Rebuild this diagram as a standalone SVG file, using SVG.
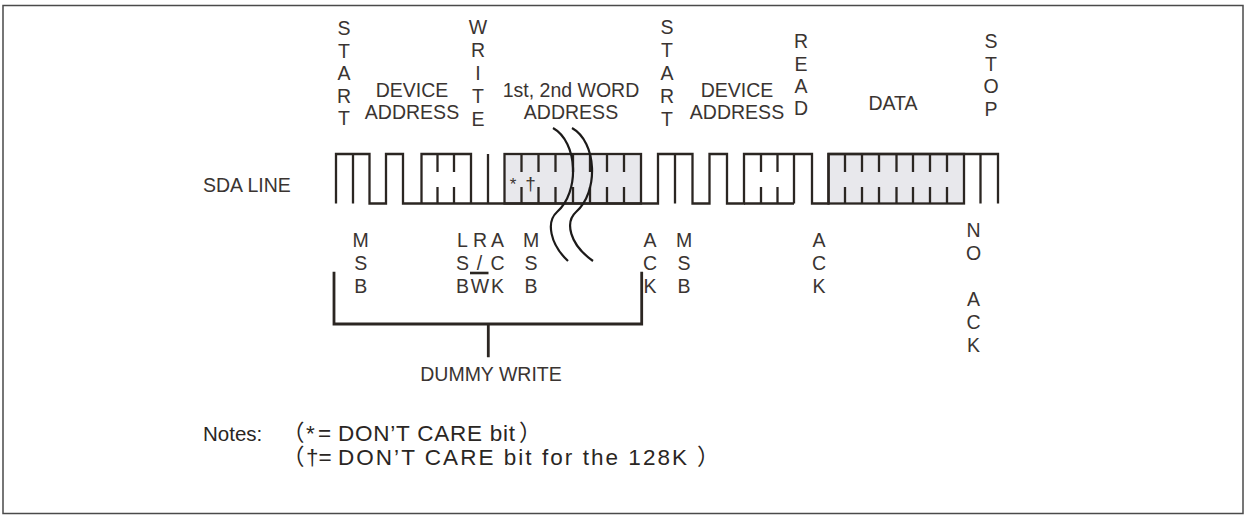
<svg xmlns="http://www.w3.org/2000/svg" width="1246" height="515" viewBox="0 0 1246 515">
<style>
.t{font-family:"Liberation Sans",Arial,"Noto Sans CJK SC",sans-serif;font-size:19.5px;fill:#3a3431;text-anchor:middle}
.n{font-family:"Liberation Sans",Arial,"Noto Sans CJK SC",sans-serif;font-size:22.5px;fill:#2a2623}
.w{fill:none;stroke:#2b2622;stroke-width:2.3;stroke-linejoin:miter;stroke-linecap:butt}
.g{fill:#e8e8ec;stroke:#2b2622;stroke-width:2.3}
.c{fill:none;stroke:#1c1a19;stroke-width:2.2}
.b{fill:none;stroke:#2b2622;stroke-width:2.8}
</style>
<rect x="3" y="5.5" width="1240" height="508" fill="#fff" stroke="#4a4a4a" stroke-width="1.5"/>

<g id="labels-top">
<text class="t"><tspan x="344" y="35">S</tspan><tspan x="344" y="57.5">T</tspan><tspan x="344" y="80">A</tspan><tspan x="344" y="102.5">R</tspan><tspan x="344" y="125">T</tspan></text>
<text class="t"><tspan x="412" y="96.7">DEVICE</tspan><tspan x="412" y="119.3">ADDRESS</tspan></text>
<text class="t"><tspan x="478" y="33.5">W</tspan><tspan x="478" y="56.5">R</tspan><tspan x="478" y="79.5">I</tspan><tspan x="478" y="102.5">T</tspan><tspan x="478" y="125.5">E</tspan></text>
<text class="t"><tspan x="571" y="96.7">1st, 2nd WORD</tspan><tspan x="571" y="119.3">ADDRESS</tspan></text>
<text class="t"><tspan x="667" y="33.5">S</tspan><tspan x="667" y="56.5">T</tspan><tspan x="667" y="80">A</tspan><tspan x="667" y="103">R</tspan><tspan x="667" y="126">T</tspan></text>
<text class="t"><tspan x="737" y="96.7">DEVICE</tspan><tspan x="737" y="119.3">ADDRESS</tspan></text>
<text class="t"><tspan x="801" y="48.3">R</tspan><tspan x="801" y="70.5">E</tspan><tspan x="801" y="93">A</tspan><tspan x="801" y="115">D</tspan></text>
<text class="t" x="893" y="110">DATA</text>
<text class="t"><tspan x="991" y="48.3">S</tspan><tspan x="991" y="70.5">T</tspan><tspan x="991" y="93">O</tspan><tspan x="991" y="115.5">P</tspan></text>
</g>

<g id="sda-label"><text class="t" x="203" y="192" style="text-anchor:start">SDA LINE</text></g>

<g id="sda-waveform">
<rect class="g" x="504.5" y="154" width="136.5" height="49.5"/>
<rect class="g" x="828.5" y="154" width="135.5" height="49.5"/>
<path class="w" d="M336,203.5 V154 H369.5 V203.5 H386 V154 H403 V203.5 H658 V154 H692.5 V203.5 H709.5 V154 H727 V203.5 H744 V154 H812 V203.5 H828.5 V154 H998 V203.5"/>
<path class="w" d="M421.5,203.5 V154 H471 V203.5 M744,203.5 H794 M794,154 V203.5 M353,154 V203.5 M488,154 V203.5 M675,154 V203.5 M980.5,154 V203.5"/>
<path class="w" d="M437.5,154 V172 M437.5,187 V203.5 M454,154 V172 M454,187 V203.5 M761,154 V172 M761,187 V203.5 M777.5,154 V172 M777.5,187 V203.5
M521.5,154 V172 M521.5,187 V203.5 M538.5,154 V172 M538.5,187 V203.5 M555.5,154 V172 M555.5,187 V203.5 M573,154 V172 M573,187 V203.5 M590,154 V172 M590,187 V203.5 M607,154 V172 M607,187 V203.5 M624,154 V172 M624,187 V203.5
M845,154 V172 M845,187 V203.5 M862,154 V172 M862,187 V203.5 M879,154 V172 M879,187 V203.5 M896.5,154 V172 M896.5,187 V203.5 M913,154 V172 M913,187 V203.5 M930,154 V172 M930,187 V203.5 M947,154 V172 M947,187 V203.5"/>
<text class="t" x="513" y="190" style="font-size:17px">*</text>
<text class="t" x="530.5" y="189.5" style="font-size:19px">†</text>
</g>

<g id="break-marks">
<path class="c" d="M553,128 C578,142 580,192 557,212 C546,222 550,244 568,261"/>
<path class="c" d="M572,128 C597,142 599,192 576,212 C565,222 569,244 593,261"/>
</g>

<g id="labels-bottom">
<text class="t"><tspan x="360.7" y="246.7">M</tspan><tspan x="360.7" y="270">S</tspan><tspan x="360.7" y="293.3">B</tspan></text>
<text class="t"><tspan x="462.5" y="246.7">L</tspan><tspan x="462.5" y="270">S</tspan><tspan x="462.5" y="293.3">B</tspan></text>
<text class="t"><tspan x="480" y="246.7">R</tspan><tspan x="479.5" y="270">/</tspan><tspan x="480" y="293.3">W</tspan></text>
<path d="M470,273 H488.5" stroke="#2b2622" stroke-width="2.6"/>
<text class="t"><tspan x="497.5" y="246.7">A</tspan><tspan x="497.5" y="270">C</tspan><tspan x="497.5" y="293.3">K</tspan></text>
<text class="t"><tspan x="531" y="246.7">M</tspan><tspan x="531" y="270">S</tspan><tspan x="531" y="293.3">B</tspan></text>
<text class="t"><tspan x="650" y="246.7">A</tspan><tspan x="650" y="270">C</tspan><tspan x="650" y="293.3">K</tspan></text>
<text class="t"><tspan x="684" y="246.7">M</tspan><tspan x="684" y="270">S</tspan><tspan x="684" y="293.3">B</tspan></text>
<text class="t"><tspan x="819" y="246.7">A</tspan><tspan x="819" y="270">C</tspan><tspan x="819" y="293.3">K</tspan></text>
<text class="t"><tspan x="973.5" y="237">N</tspan><tspan x="973.5" y="260">O</tspan><tspan x="973.5" y="306">A</tspan><tspan x="973.5" y="329">C</tspan><tspan x="973.5" y="352">K</tspan></text>
</g>

<g id="dummy-write">
<path class="b" d="M334,271.7 V324 H641.7 V271.7 M488.3,324 V357.3"/>
<text class="t" x="491" y="381">DUMMY WRITE</text>
</g>

<g id="notes">
<text class="n" x="203" y="441" style="font-size:20.5px">Notes:</text>
<text class="n" y="441"><tspan x="282">（</tspan><tspan x="306">*</tspan><tspan x="318">=</tspan><tspan x="338" textLength="177" lengthAdjust="spacing">DON’T CARE bit</tspan><tspan x="519">）</tspan></text>
<text class="n" y="465"><tspan x="282">（</tspan><tspan x="306">†=</tspan><tspan x="338" textLength="349" lengthAdjust="spacing">DON’T CARE bit for the 128K</tspan><tspan x="697">）</tspan></text>
</g>
</svg>
